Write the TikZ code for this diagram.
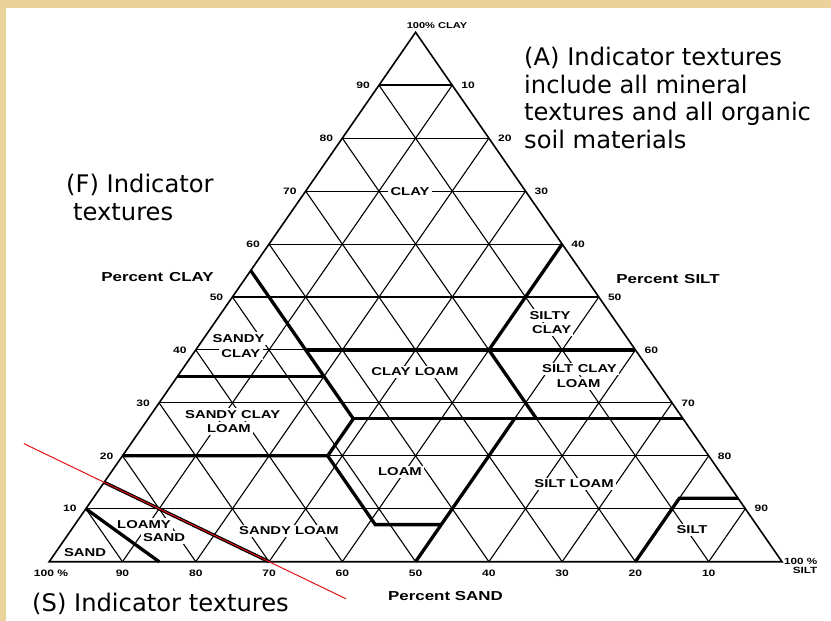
\documentclass[tikz,border=0pt]{standalone}
\usepackage{fontspec}
\usetikzlibrary{calc}
\newfontfamily\lblfont[FakeStretch=1.3]{Liberation Sans Bold}
\newfontfamily\annfont{DejaVu Sans}
\definecolor{tanbg}{RGB}{233,211,155}
\definecolor{redln}{RGB}{225,20,20}
\tikzset{tern/.cd, c/.store in=\ternC, s/.store in=\ternS}
\tikzdeclarecoordinatesystem{T}{%
  \def\ternC{0}\def\ternS{0}%
  \tikzset{tern/.cd,#1}%
  \pgfmathsetmacro\ternX{49.2+7.328*((\ternS)+(\ternC)/2)}%
  \pgfmathsetmacro\ternY{-(561.7-5.294*(\ternC))}%
  \pgfpoint{\ternX pt}{\ternY pt}%
}
\begin{document}
\begin{tikzpicture}[x=1pt,y=-1pt,
  gridln/.style={line width=1.1pt},
  outln/.style={line width=1.6pt, line join=miter},
  boundln/.style={line width=3.3pt},
  redline/.style={line width=1pt, redln},
  tickl/.style={font=\lblfont\fontsize{9.3}{10}\selectfont, inner sep=0pt},
  regionlbl/.style={font=\lblfont\fontsize{11.4}{12}\selectfont, fill=white, inner sep=2.3pt},
  axislbl/.style={font=\lblfont\fontsize{13}{14}\selectfont, inner sep=0pt},
  ann/.style={font=\annfont\fontsize{24.2}{27}\selectfont, inner sep=0pt, anchor=base west},
]
\useasboundingbox (0,0) rectangle (831,621);
\fill[tanbg] (0,0) rectangle (831,621);
\fill[white] (6,8) rectangle (831,621);

% grid
\foreach \i in {10,20,...,90} {
  \draw[gridln] (T cs:c=\i,s=0) -- (T cs:c=\i,s=100-\i);
  \draw[gridln] (T cs:c=0,s=\i) -- (T cs:c=100-\i,s=\i);
  \draw[gridln] (T cs:c=0,s=100-\i) -- (T cs:c=100-\i,s=0);
}
\draw[line width=2pt] (T cs:c=90,s=0) -- (T cs:c=90,s=10);
\draw[outln] (T cs:c=0,s=0) -- (T cs:c=0,s=100) -- (T cs:c=100,s=0) -- cycle;

% tick labels
\foreach \i [evaluate=\i as \v using int(100-\i)] in {10,20,...,90} {
  \node[tickl, anchor=east, xshift=-9pt] (cl\i) at (T cs:c=\i,s=0) {\i};
  \node[tickl, anchor=west, xshift=9pt] (sl\i) at (T cs:c=100-\i,s=\i) {\i};
  \node[tickl, yshift=-11.5pt] (sa\i) at (T cs:c=0,s=\i) {\v};
}
\node[tickl] (sa100) at (51,573) {100 \%};
\node[tickl, align=right, anchor=west, font=\lblfont\fontsize{9}{9}\selectfont] (si100) at (784,565.5) {100 \%\\SILT};
\node[tickl, font=\lblfont\fontsize{8.5}{9}\selectfont] (cl100) at (437,26) {100\% CLAY};

% axis titles
\node[axislbl] (pclay) at (157.5,277) {Percent\hspace{0.45em}CLAY};
\node[axislbl] (psilt) at (668,279) {Percent\hspace{0.45em}SILT};
\node[axislbl] (psand) at (445.5,596) {Percent SAND};

% region labels
\node[regionlbl] (rclay) at (410,191.5) {CLAY};
\node[regionlbl] (rsiltyA) at (550,315.7) {SILTY};
\node[regionlbl] (rsiltyB) at (551.7,329.3) {CLAY};
\node[regionlbl] (rsclA) at (579.5,369) {SILT\hspace{0.4em}CLAY};
\node[regionlbl] (rsclB) at (578.7,383.3) {LOAM};
\node[regionlbl] (rcl) at (415,372) {CLAY\hspace{0.4em}LOAM};
\node[regionlbl] (rscA) at (238.5,338.3) {SANDY};
\node[regionlbl] (rscB) at (240.8,354) {CLAY};
\node[regionlbl] (rsclmA) at (232.7,414.3) {SANDY CLAY};
\node[regionlbl] (rsclmB) at (229,428.3) {LOAM};
\node[regionlbl] (rloam) at (400,472) {LOAM};
\node[regionlbl] (rsiltl) at (574,484) {SILT\hspace{0.4em}LOAM};
\node[regionlbl] (rsilt) at (692,530) {SILT};
\node[regionlbl] (rlsA) at (144,524.3) {LOAMY};
\node[regionlbl] (rlsB) at (164,537.3) {SAND};
\node[regionlbl] (rsand) at (85,552.3) {SAND};
\node[regionlbl] (rsl) at (289,531) {SANDY LOAM};

% texture class boundaries
\draw[boundln] (T cs:c=10,s=0) -- (T cs:c=0,s=15);
\coordinate (L1) at (T cs:c=15,s=0);
\coordinate (L2) at (T cs:c=0,s=30);
\draw[boundln] (L1) -- (L2);
\draw[boundln] (T cs:c=20,s=0) -- (T cs:c=20,s=28) -- (T cs:c=7,s=41) -- (T cs:c=7,s=50);
\draw[boundln] (T cs:c=0,s=50) -- (T cs:c=27,s=50);
\draw[boundln] (T cs:c=20,s=28) -- (T cs:c=27,s=28) -- (T cs:c=55,s=0);
\draw[boundln] (T cs:c=27,s=28) -- (T cs:c=27,s=73);
\draw[boundln] (T cs:c=35,s=0) -- (T cs:c=35,s=20);
\draw[boundln] (T cs:c=40,s=15) -- (T cs:c=40,s=60);
\draw[boundln] (T cs:c=60,s=40) -- (T cs:c=40,s=40) -- (T cs:c=27,s=53);
\draw[boundln] (T cs:c=0,s=80) -- (T cs:c=12,s=80) -- (T cs:c=12,s=88);
\draw[redline] ($(L1)!-0.487!(L2)$) -- ($(L1)!1.467!(L2)$);

% annotations
\node[ann] (annA1) at (524,65) {(A) Indicator textures};
\node[ann] (annA2) at (524,93) {include all mineral};
\node[ann] (annA3) at (524,120.5) {textures and all organic};
\node[ann] (annA4) at (524,148) {soil materials};
\node[ann] (annF1) at (66,192.7) {(F) Indicator};
\node[ann] (annF2) at (73,220) {textures};
\node[ann] (annS) at (32,611.7) {(S) Indicator textures};
\end{tikzpicture}
\end{document}
